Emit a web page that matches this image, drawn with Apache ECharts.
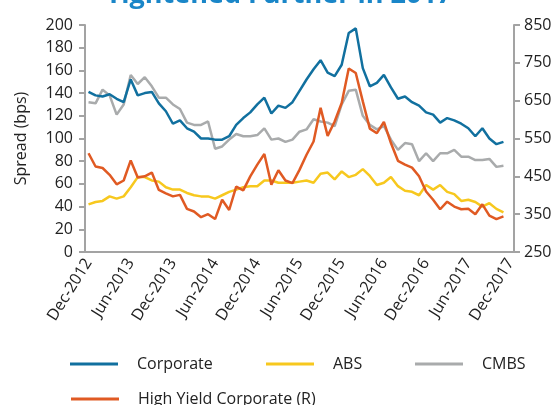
<!DOCTYPE html>
<html>
<head>
<meta charset="utf-8">
<script src="https://cdn.jsdelivr.net/npm/echarts@6/dist/echarts.min.js"></script>
<style>
  html, body { margin: 0; padding: 0; background: #fff; }
  #main { width: 558px; height: 405px; }
</style>
</head>
<body>
<div id="main"></div>
<script>
// monthly spreads, Dec-2012 .. Nov-2017
const corporate = [141,138,137,139,135,132,152,138,140,141,131,124,113,116,109,106,100,100,99,99,102,112,118,123,130,136,122,129,127,132,142,152,161,169,158,155,165,193,197,162,146,149,156,145,135,137,132,129,123,121,114,118,116,113,109,102,109,100,95,97];
const abs = [42,44,45,49,47,49,57,66,66,63,62,57,55,55,52,50,49,49,47,50,53,55,57,58,58,63,63,61,61,61,62,63,61,69,70,64,71,66,68,73,67,59,61,66,58,54,53,50,59,55,59,53,51,45,46,44,40,43,38,35];
const cmbs = [132,131,143,138,121,130,156,148,154,146,136,136,130,126,114,112,112,115,91,93,99,104,102,102,103,109,99,100,97,99,106,108,117,115,114,111,130,142,143,120,112,108,111,99,90,96,95,80,87,80,87,87,90,84,84,81,81,82,75,76];
const highYield = [511,476,472,454,429,439,492,447,450,460,414,405,397,401,364,357,342,350,337,388,361,423,413,450,481,509,428,466,439,432,467,507,542,631,557,595,644,735,723,648,576,564,594,538,491,481,473,450,410,388,363,383,370,363,364,350,376,346,337,344];

const monthNames = ['Jan','Feb','Mar','Apr','May','Jun','Jul','Aug','Sep','Oct','Nov','Dec'];
const months = [];
for (let k = 11; k <= 12 * 5 + 11; k++) {
  months.push(monthNames[k % 12] + '-' + (2012 + Math.floor(k / 12)));
}

const FONT = 'Open Sans';
const axisGrey = '#a3a3a3';
const colors = {
  corporate: '#11709f',
  abs: '#f7c81e',
  cmbs: '#a9abac',
  hy: '#e05a23'
};

function legendAt(name, left, top) {
  return {
    data: [name],
    left: left,
    top: top,
    icon: 'rect',
    itemWidth: 48,
    itemHeight: 3,
    textStyle: { fontFamily: FONT, fontSize: 16, color: '#222', padding: [0, 0, 0, 14] }
  };
}

const chart = echarts.init(document.getElementById('main'));

chart.setOption({
  animation: false,
  title: {
    text: 'Tightened Further in 2017',
    left: 'center',
    top: -23,
    textStyle: { fontFamily: FONT, fontSize: 27, fontWeight: 'bold', color: '#1a86c8' }
  },
  grid: { left: 85, right: 44, top: 25, bottom: 153 },
  legend: [
    legendAt('Corporate', 65, 351),
    legendAt('ABS', 261, 351),
    legendAt('CMBS', 410, 351),
    legendAt('High Yield Corporate (R)', 66, 386)
  ],
  xAxis: {
    type: 'category',
    data: months,
    boundaryGap: true,
    axisLine: { lineStyle: { color: axisGrey, width: 2 } },
    axisTick: { interval: 5, length: 6, lineStyle: { color: axisGrey, width: 2 } },
    axisLabel: { interval: 5, rotate: 58, margin: 8, fontFamily: FONT, fontSize: 16, color: '#222' }
  },
  yAxis: [{
    type: 'value',
    min: 0,
    max: 200,
    interval: 20,
    name: 'Spread (bps)',
    nameLocation: 'middle',
    nameGap: 56,
    nameTextStyle: { fontFamily: FONT, fontSize: 16, color: '#222' },
    splitLine: { show: false },
    axisLine: { show: true, lineStyle: { color: axisGrey, width: 2 } },
    axisTick: { show: true, length: 6, lineStyle: { color: axisGrey, width: 2 } },
    axisLabel: { margin: 12, fontFamily: FONT, fontSize: 16, color: '#222' }
  }, {
    type: 'value',
    min: 250,
    max: 850,
    interval: 100,
    position: 'right',
    splitLine: { show: false },
    axisLine: { show: true, lineStyle: { color: axisGrey, width: 2 } },
    axisTick: { show: true, length: 6, lineStyle: { color: axisGrey, width: 2 } },
    axisLabel: { margin: 10, fontFamily: FONT, fontSize: 16, color: '#222' }
  }],
  series: [{
    name: 'Corporate',
    type: 'line',
    data: corporate,
    showSymbol: false,
    lineStyle: { width: 2.5, color: colors.corporate },
    itemStyle: { color: colors.corporate },
    z: 4
  }, {
    name: 'ABS',
    type: 'line',
    data: abs,
    showSymbol: false,
    lineStyle: { width: 2.5, color: colors.abs },
    itemStyle: { color: colors.abs },
    z: 2
  }, {
    name: 'CMBS',
    type: 'line',
    data: cmbs,
    showSymbol: false,
    lineStyle: { width: 2.5, color: colors.cmbs },
    itemStyle: { color: colors.cmbs },
    z: 1
  }, {
    name: 'High Yield Corporate (R)',
    type: 'line',
    yAxisIndex: 1,
    data: highYield,
    showSymbol: false,
    lineStyle: { width: 2.5, color: colors.hy },
    itemStyle: { color: colors.hy },
    z: 3
  }]
});
</script>
</body>
</html>
